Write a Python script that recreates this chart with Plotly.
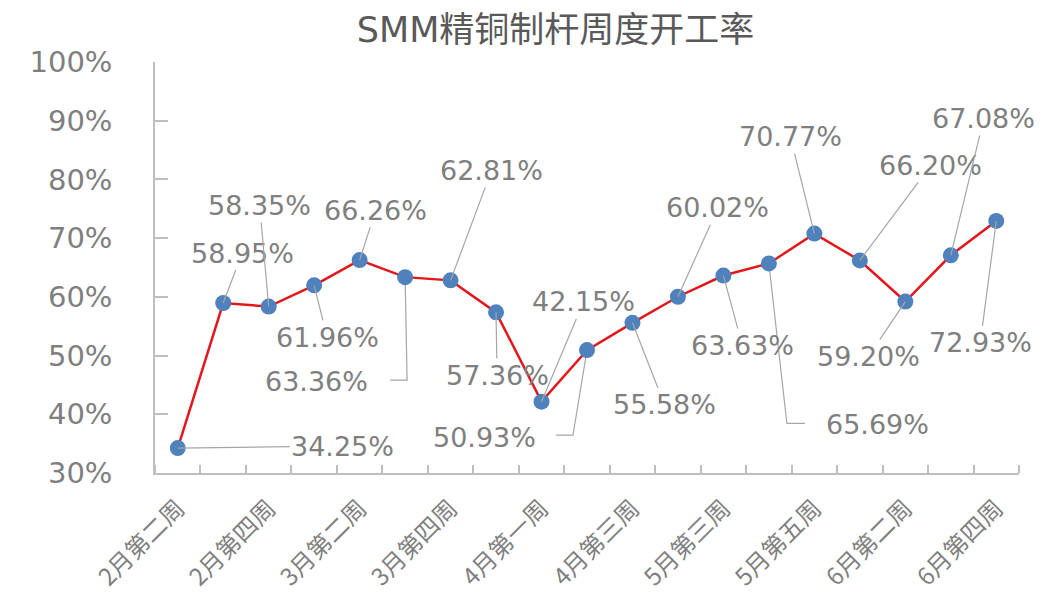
import plotly.graph_objects as go

categories = ["2月第二周", "2月第三周", "2月第四周", "3月第一周", "3月第二周",
              "3月第三周", "3月第四周", "3月第五周", "4月第一周", "4月第二周",
              "4月第三周", "5月第二周", "5月第三周", "5月第四周", "5月第五周",
              "6月第一周", "6月第二周", "6月第三周", "6月第四周"]
values = [34.25, 58.95, 58.35, 61.96, 66.26, 63.36, 62.81, 57.36, 42.15, 50.93,
          55.58, 60.02, 63.63, 65.69, 70.77, 66.20, 59.20, 67.08, 72.93]
y_ticks = [30, 40, 50, 60, 70, 80, 90, 100]

# label offsets in pixels (placement style only)
label_dx = [165, 19, -9, 13, 16, -89, 41, 1, 42, -103, 32, 40, 19, 109, -24, 71, -37, 33, -16]
label_dy = [-2, -50, -101, 52, -50, 104, -110, 63, -100, 87, 82, -89, 70, 161, -97, -95, 55, -137, 122]
# elbow leader lines (index -> (corner dx, corner dy, end dx)) in pixels, screen y down
elbows = {5: (2, 103, -15), 9: (-14, 85, -31), 13: (18, 160, 36)}

idx = list(range(len(categories)))
gray = "#7F7F7F"
axis_col = "#BFBFBF"
lead_col = "#A6A6A6"

fig = go.Figure()
fig.add_trace(go.Scatter(
    x=idx, y=values, mode="lines+markers",
    line=dict(color="#E3161B", width=2.5),
    marker=dict(color="#4F81BD", size=16, line=dict(width=0)),
    hoverinfo="skip", showlegend=False,
))

for i, v in enumerate(values):
    elbow = i in elbows
    fig.add_annotation(
        x=idx[i], y=v, xref="x", yref="y",
        text=f"{v:.2f}%", showarrow=not elbow,
        ax=label_dx[i], ay=label_dy[i], axref="pixel", ayref="pixel",
        xshift=label_dx[i] if elbow else 0, yshift=-label_dy[i] if elbow else 0,
        arrowhead=0, arrowwidth=1.2, arrowcolor=lead_col, standoff=0,
        font=dict(family="DejaVu Sans", size=27, color=gray),
        bgcolor="rgba(0,0,0,0)",
    )
    if elbow:
        cx, cy, ex = elbows[i]
        fig.add_shape(
            type="path", xref="x", yref="y", xsizemode="pixel", ysizemode="pixel",
            xanchor=idx[i], yanchor=v,
            path=f"M0,0 L{cx},{-cy} L{ex},{-cy}",
            line=dict(color=lead_col, width=1.2), layer="below",
        )

fig.update_layout(
    width=1051, height=593,
    margin=dict(l=147, r=40, t=54, b=128),
    paper_bgcolor="white", plot_bgcolor="white",
    title=dict(text="SMM精铜制杆周度开工率", x=0.521, xanchor="center", y=0.963, yanchor="middle",
               font=dict(family="DejaVu Sans, Noto Sans CJK SC", size=35, color="#595959")),
)

fig.update_xaxes(
    range=[-0.5, len(categories) - 0.5],
    tickmode="array", tickvals=idx[::2], ticktext=categories[::2],
    tickangle=-45, ticks="", showgrid=False, zeroline=False,
    showline=True, linecolor=axis_col, linewidth=1.5,
    tickfont=dict(family="Noto Sans CJK SC", size=24, color=gray),
    ticklabelstandoff=10, automargin=False,
    minor=dict(tickmode="linear", tick0=0.5, dtick=1, ticks="inside", ticklen=8,
               tickcolor=axis_col, tickwidth=1.5, showgrid=False),
)
fig.update_yaxes(
    range=[30, 100], tickmode="array", tickvals=y_ticks,
    ticktext=[f"{t}%" for t in y_ticks],
    ticks="inside", ticklen=13, tickcolor=axis_col, tickwidth=1.5,
    showgrid=False, zeroline=False,
    showline=True, linecolor=axis_col, linewidth=1.5,
    tickfont=dict(family="DejaVu Sans", size=29, color=gray),
    ticklabelstandoff=35, automargin=False,
)

fig.write_html("out.html")
